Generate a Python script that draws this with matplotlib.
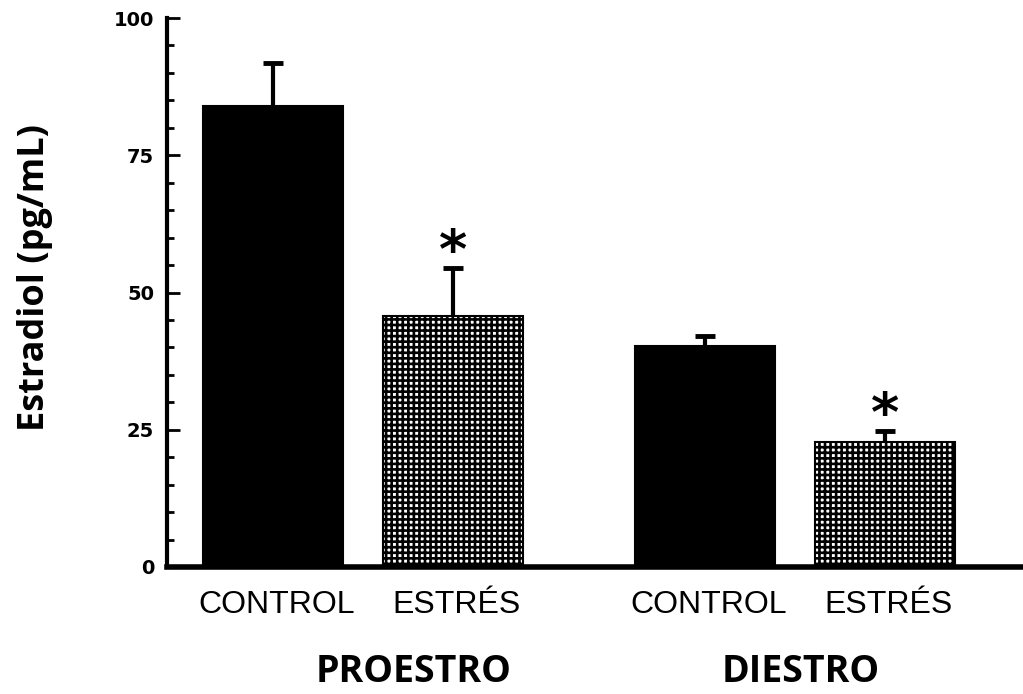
import numpy as np
import matplotlib.pyplot as plt

# bar heights and upper error (SEM) for each group
categories = ["CONTROL", "ESTRÉS", "CONTROL", "ESTRÉS"]
phases = ["PROESTRO", "DIESTRO"]
means = [84.0, 45.7, 40.3, 22.8]
errors = [7.8, 8.8, 1.8, 2.0]
significant = [False, True, False, True]

positions = np.array([0.0, 1.0, 2.4, 3.4])

plt.rcParams['hatch.linewidth'] = 1.9

fig = plt.figure(figsize=(10.23, 6.94), dpi=100)
ax = fig.add_axes([0.163, 0.183, 0.837, 0.791])

# symmetric error bars drawn under the bars, so only the upper half shows
ax.errorbar(positions, means, yerr=errors, fmt="none", ecolor="black",
            elinewidth=3, capsize=7, capthick=3.5, zorder=1)

for i, (x, m) in enumerate(zip(positions, means)):
    if categories[i] == "CONTROL":
        ax.bar(x, m, width=0.78, color="black", edgecolor="black",
               linewidth=1.5, zorder=2)
    else:
        ax.bar(x, m, width=0.78, color="white", edgecolor="black",
               hatch="+++", linewidth=1.5, zorder=2)

for x, m, e, s in zip(positions, means, errors, significant):
    if s:
        ax.text(x, m + e - 2.0, "*", ha="center", va="bottom",
                fontsize=39, fontweight="bold", family="DejaVu Sans")

ax.set_xlim(-0.589, 4.167)
ax.set_ylim(0, 100)
ax.set_yticks([0, 25, 50, 75, 100])
ax.set_yticks(np.arange(0, 101, 5), minor=True)
ax.tick_params(axis="y", which="major", direction="in", length=9, width=2,
               labelsize=14, pad=9)
ax.tick_params(axis="y", which="minor", direction="in", length=5, width=2)
for lab in ax.get_yticklabels():
    lab.set_fontweight("bold")
    lab.set_family("DejaVu Sans")
ax.set_xticks([])

ax.spines["top"].set_visible(False)
ax.spines["right"].set_visible(False)
ax.spines["left"].set_linewidth(3)
ax.spines["bottom"].set_linewidth(4)

# category and phase labels under the axis
for x, c in zip(positions, categories):
    ax.text(x + 0.02, -8.4, c, ha="center", va="baseline", fontsize=23,
            family="Liberation Sans")
ax.text(positions[0] + 0.78, -22.6, phases[0], ha="center",
        va="bottom", fontsize=27, fontweight="bold", family="Open Sans")
ax.text(positions[2] + 0.53, -22.6, phases[1], ha="center",
        va="bottom", fontsize=27, fontweight="bold", family="Open Sans")

fig.text(0.034, 0.60, "Estradiol (pg/mL)", rotation=90, ha="center",
         va="center", fontsize=26, fontweight="bold", family="Open Sans")

fig.savefig("out.png", dpi=100)
